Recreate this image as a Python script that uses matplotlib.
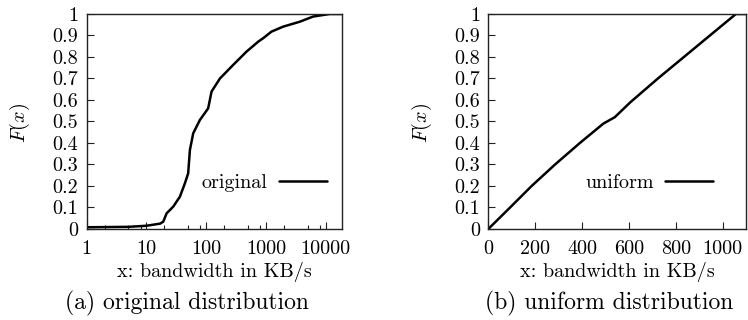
import matplotlib
matplotlib.use('Agg')
import matplotlib.pyplot as plt
from matplotlib.ticker import FixedLocator, NullFormatter

# ---- data ----
orig_x = [1, 5, 10, 17, 19.1, 21.8, 28.1, 36.3, 44, 50, 53.4, 60.7, 78.5, 108,
          123, 170, 283, 474, 742, 897, 1240, 1940, 3690, 6170, 11700, 19000]
orig_F = [0.008, 0.010, 0.015, 0.025, 0.034, 0.073, 0.104, 0.150, 0.212, 0.259,
          0.367, 0.445, 0.507, 0.561, 0.639, 0.700, 0.763, 0.825, 0.871, 0.887,
          0.918, 0.941, 0.964, 0.988, 1.0, 1.0]

unif_x = [0, 93, 185, 285, 391, 491, 540, 607, 724, 835, 946, 1057, 1100]
unif_F = [0.0, 0.10, 0.20, 0.30, 0.40, 0.49, 0.52, 0.59, 0.70, 0.80, 0.90, 1.0, 1.0]

log_ticks = [1, 10, 100, 1000, 10000]
log_labels = ['1', '10', '100', '1000', '10000']
log_minor = [2, 5, 8, 20, 50, 80, 200, 500, 800, 2000, 5000, 8000]
lin_ticks = [0, 200, 400, 600, 800, 1000]
lin_labels = ['0', '200', '400', '600', '800', '1000']
y_ticks = [0, 0.1, 0.2, 0.3, 0.4, 0.5, 0.6, 0.7, 0.8, 0.9, 1.0]
y_labels = ['0', '0.1', '0.2', '0.3', '0.4', '0.5', '0.6', '0.7', '0.8', '0.9', '1']

series_names = ['original', 'uniform']
captions = ['(a) original distribution', '(b) uniform distribution']
xlabel_text = 'x: bandwidth in KB/s'
ylabel_text = r'$F(x)$'

# ---- style ----
plt.rcParams['font.family'] = 'serif'
plt.rcParams['font.serif'] = ['cmr10']
plt.rcParams['mathtext.fontset'] = 'cm'
plt.rcParams['axes.formatter.use_mathtext'] = True

FS_TICK = 14.5
FS_LABEL = 14.5
FS_CAP = 17

fig = plt.figure(figsize=(7.48, 3.2), dpi=100)
ax1 = fig.add_axes([0.1159, 0.2844, 0.3417, 0.6719])
ax2 = fig.add_axes([0.6528, 0.2844, 0.3445, 0.6719])

ax1.plot(orig_x, orig_F, color='black', lw=1.8, label=series_names[0],
         solid_joinstyle='round', solid_capstyle='round')
ax1.set_xscale('log')
ax1.set_xlim(1, 19000)
ax1.xaxis.set_major_locator(FixedLocator(log_ticks))
ax1.xaxis.set_minor_locator(FixedLocator(log_minor))
ax1.xaxis.set_minor_formatter(NullFormatter())
ax1.set_xticklabels(log_labels)

ax2.plot(unif_x, unif_F, color='black', lw=1.8, label=series_names[1],
         solid_joinstyle='round', solid_capstyle='round')
ax2.set_xlim(0, 1100)
ax2.xaxis.set_major_locator(FixedLocator(lin_ticks))
ax2.set_xticklabels(lin_labels)

legend_x = [0.940, 0.872]
cap_x = [187 / 748, 609 / 748]
ylab_x = [20 / 748, 422 / 748]

for i, ax in enumerate([ax1, ax2]):
    ax.set_ylim(0, 1)
    ax.yaxis.set_major_locator(FixedLocator(y_ticks))
    ax.set_yticklabels(y_labels)
    ax.tick_params(which='both', direction='in', top=False, right=False,
                   labelsize=FS_TICK, width=0.8, color='#222222')
    ax.tick_params(which='major', length=5)
    ax.tick_params(which='minor', length=3)
    ax.tick_params(axis='y', pad=6)
    ax.tick_params(axis='x', pad=8)
    for s in ax.spines.values():
        s.set_linewidth(1.0)
        s.set_color('#222222')
    ax.set_xlabel(xlabel_text, fontsize=FS_LABEL, va='top')
    ax.xaxis.set_label_coords(0.5, -0.152)
    ax.legend(loc='center right', bbox_to_anchor=(legend_x[i], 0.214),
              markerfirst=False, frameon=False, borderpad=0, borderaxespad=0,
              handlelength=2.4, handletextpad=0.55, fontsize=FS_LABEL)
    fig.text(ylab_x[i], 1 - 123 / 320, ylabel_text, rotation=90,
             ha='center', va='center', fontsize=FS_LABEL)
    fig.text(cap_x[i], 1 - 303 / 320, captions[i], ha='center', va='center',
             fontsize=FS_CAP)

fig.savefig('out.png', dpi=100)
